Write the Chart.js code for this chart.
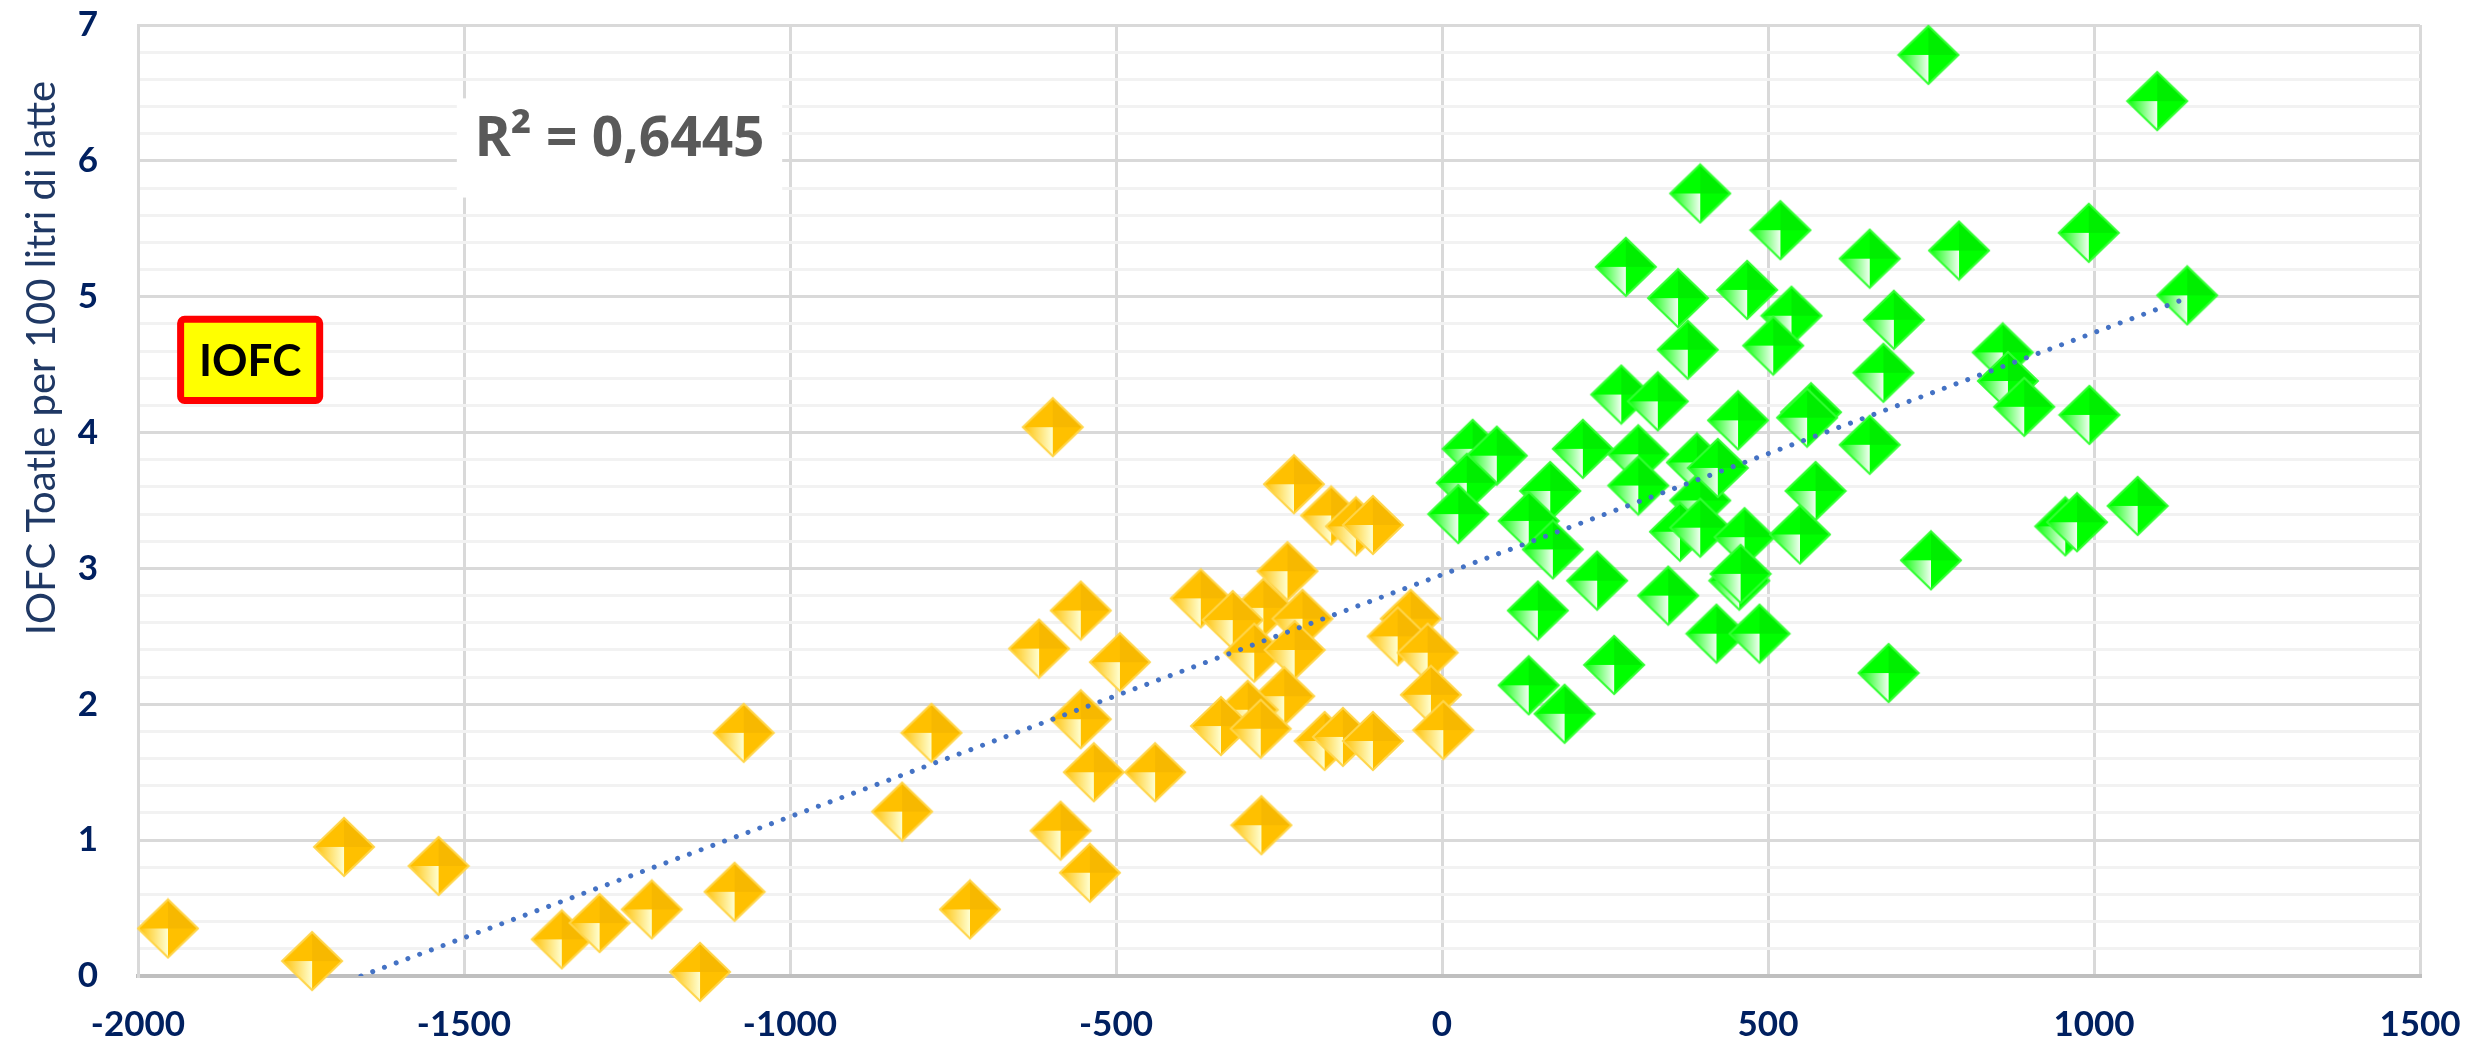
<!DOCTYPE html>
<html>
<head>
<meta charset="utf-8">
<script src="https://cdn.jsdelivr.net/npm/chart.js@4.4.1/dist/chart.umd.min.js"></script>
<style>
  html, body { margin: 0; padding: 0; background: #fff; }
  #wrap { width: 2469px; height: 1041px; }
</style>
</head>
<body>
<div id="wrap"><canvas id="chart" width="2469" height="1041"></canvas></div>
<script>
// values
const yellowX = [-1954, -1733, -1684, -1539, -1350, -1292, -1212, -1138, -1085, -1071,
  -828, -783, -724, -597, -618, -554, -494, -554, -534, -440,
  -585, -540, -277, -370, -227, -170, -132, -106, -237, -274,
  -321, -214, -288, -226, -48, -68, -22, -17, 2, -242,
  -298, -339, -278, -180, -152, -106];
const yellowY = [0.35, 0.11, 0.95, 0.81, 0.27, 0.39, 0.49, 0.03, 0.62, 1.79,
  1.21, 1.79, 0.49, 4.04, 2.41, 2.69, 2.31, 1.89, 1.5, 1.5,
  1.07, 0.76, 1.11, 2.78, 3.62, 3.39, 3.31, 3.32, 2.98, 2.71,
  2.62, 2.63, 2.38, 2.4, 2.63, 2.5, 2.38, 2.07, 1.81, 2.06,
  1.96, 1.84, 1.82, 1.73, 1.76, 1.73];

const greenX = [746, 1097, 396, 519, 992, 656, 793, 282, 1143, 362,
  468, 536, 693, 508, 377, 860, 677, 868, 893, 993,
  275, 331, 454, 566, 560, 656, 47, 84, 216, 301,
  391, 38, 25, 166, 133, 170, 301, 396, 365, 396,
  464, 549, 573, 238, 147, 347, 456, 458, 421, 487,
  264, 133, 188, 750, 956, 974, 1067, 685, 423];
const greenY = [6.78, 6.44, 5.76, 5.49, 5.47, 5.28, 5.34, 5.22, 5.01, 4.99,
  5.05, 4.86, 4.83, 4.64, 4.61, 4.59, 4.44, 4.38, 4.19, 4.13,
  4.28, 4.23, 4.09, 4.15, 4.11, 3.91, 3.88, 3.83, 3.88, 3.84,
  3.78, 3.63, 3.4, 3.57, 3.35, 3.14, 3.61, 3.5, 3.27, 3.3,
  3.23, 3.25, 3.57, 2.91, 2.69, 2.8, 2.91, 2.96, 2.52, 2.52,
  2.29, 2.14, 1.93, 3.06, 3.31, 3.34, 3.46, 2.23, 3.74];

// dotted linear trend line (ends as drawn in the picture)
const trendX = [-1658, 1143];
const trendY = [0, 4.99];

const xTickValues = [-2000, -1500, -1000, -500, 0, 500, 1000, 1500];
const yTickValues = [0, 1, 2, 3, 4, 5, 6, 7];

const yTitle = "IOFC Toatle per 100 litri di latte";
const r2Text = "R\u00B2 = 0,6445";
const boxText = "IOFC";

function toPoints(xs, ys) {
  return xs.map((x, i) => ({ x: x, y: ys[i] }));
}

// shaded diamond marker
function makeDiamond(base, dark, light, edge) {
  const w = 64, h = 62;
  const c = document.createElement("canvas");
  c.width = w;
  c.height = h;
  const g = c.getContext("2d");
  const cx = w / 2, cy = h / 2;
  const L = [2, cy], T = [cx, 2], R = [w - 2, cy], B = [cx, h - 2], C = [cx, cy];

  function tri(a, b, d, fill) {
    g.beginPath();
    g.moveTo(a[0], a[1]);
    g.lineTo(b[0], b[1]);
    g.lineTo(d[0], d[1]);
    g.closePath();
    g.fillStyle = fill;
    g.fill();
  }

  tri(L, T, C, base);
  tri(T, R, C, dark);
  tri(R, B, C, base);
  const grad = g.createLinearGradient(L[0], cy, cx, cy);
  grad.addColorStop(0, base);
  grad.addColorStop(1, light);
  tri(L, C, B, grad);

  g.beginPath();
  g.moveTo(L[0], L[1]);
  g.lineTo(T[0], T[1]);
  g.lineTo(R[0], R[1]);
  g.lineTo(B[0], B[1]);
  g.closePath();
  g.lineWidth = 2;
  g.strokeStyle = edge;
  g.stroke();
  return c;
}

const yellowMark = makeDiamond("#FFC000", "#F7B800", "#FFFFD0", "#FFD54A");
const greenMark = makeDiamond("#00FF00", "#00EE00", "#F0FFF0", "#33FF33");

function isMajor(v) {
  return Math.abs(v - Math.round(v)) < 1e-6;
}

const extras = {
  id: "extras",
  afterDraw(chart) {
    const ctx = chart.ctx;
    const xs = chart.scales.x;
    const ys = chart.scales.y;

    // axis title
    ctx.save();
    ctx.translate(55, 358);
    ctx.rotate(-Math.PI / 2);
    ctx.font = "40px Lato";
    ctx.fillStyle = "#1F3864";
    ctx.textAlign = "center";
    ctx.textBaseline = "alphabetic";
    ctx.fillText(yTitle, 0, 0);
    ctx.restore();

    // R² label
    const rx1 = xs.getPixelForValue(-1511), rx2 = xs.getPixelForValue(-1012);
    const ry1 = ys.getPixelForValue(6.46), ry2 = ys.getPixelForValue(5.73);
    ctx.save();
    ctx.fillStyle = "#ffffff";
    ctx.fillRect(rx1, ry1, rx2 - rx1, ry2 - ry1);
    ctx.font = "bold 55px 'Open Sans'";
    ctx.fillStyle = "#595959";
    ctx.textAlign = "center";
    ctx.textBaseline = "middle";
    ctx.fillText(r2Text, (rx1 + rx2) / 2, ys.getPixelForValue(6.15));
    ctx.restore();

    // IOFC box
    const bx1 = xs.getPixelForValue(-1940), bx2 = xs.getPixelForValue(-1716);
    const by1 = ys.getPixelForValue(4.86), by2 = ys.getPixelForValue(4.21);
    ctx.save();
    ctx.beginPath();
    ctx.roundRect(bx1 + 3.5, by1 + 3.5, bx2 - bx1 - 7, by2 - by1 - 7, 4);
    ctx.fillStyle = "#FFFF00";
    ctx.fill();
    ctx.lineWidth = 7;
    ctx.strokeStyle = "#FF0000";
    ctx.stroke();
    ctx.font = "bold 44px Lato";
    ctx.fillStyle = "#000000";
    ctx.textAlign = "center";
    ctx.textBaseline = "middle";
    ctx.fillText(boxText, (bx1 + bx2) / 2, (by1 + by2) / 2 + 2);
    ctx.restore();
  },
};

const tickFont = { family: "Lato", size: 35, weight: "bold" };

const chart = new Chart(document.getElementById("chart"), {
  type: "scatter",
  data: {
    datasets: [
      {
        type: "line",
        label: "trend",
        data: toPoints(trendX, trendY),
        borderColor: "#4472C4",
        borderWidth: 5,
        borderDash: [0.01, 12.5],
        borderCapStyle: "round",
        pointRadius: 0,
        fill: false,
        order: 0,
      },
      {
        label: "negativi",
        data: toPoints(yellowX, yellowY),
        pointStyle: yellowMark,
        pointRadius: 31,
        clip: false,
        order: 2,
      },
      {
        label: "positivi",
        data: toPoints(greenX, greenY),
        pointStyle: greenMark,
        pointRadius: 31,
        clip: false,
        order: 1,
      },
    ],
  },
  options: {
    responsive: false,
    animation: false,
    devicePixelRatio: 1,
    layout: {
      autoPadding: false,
      padding: { top: 25, right: 49, bottom: 0, left: 0 },
    },
    plugins: {
      legend: { display: false },
      tooltip: { enabled: false },
    },
    scales: {
      x: {
        type: "linear",
        min: xTickValues[0],
        max: xTickValues[xTickValues.length - 1],
        afterBuildTicks: (scale) => {
          scale.ticks = xTickValues.map((v) => ({ value: v }));
        },
        afterFit: (scale) => {
          scale.height = 65;
          scale.paddingLeft = 0;
          scale.paddingRight = 0;
        },
        grid: {
          color: "#d9d9d9",
          lineWidth: 3,
          drawTicks: false,
        },
        border: { color: "#bfbfbf", width: 4 },
        ticks: {
          autoSkip: false,
          maxRotation: 0,
          padding: 28,
          color: "#002060",
          font: tickFont,
          callback: (v) => String(v),
        },
      },
      y: {
        type: "linear",
        min: yTickValues[0],
        max: yTickValues[yTickValues.length - 1],
        afterFit: (scale) => {
          scale.width = 138;
          scale.paddingTop = 0;
          scale.paddingBottom = 0;
        },
        grid: {
          color: (c) => (isMajor(c.tick.value) ? "#d9d9d9" : "#f2f2f2"),
          lineWidth: 3,
          drawTicks: false,
        },
        border: { color: "#d9d9d9", width: 3 },
        ticks: {
          stepSize: 0.2,
          autoSkip: false,
          padding: 40,
          color: "#002060",
          font: tickFont,
          callback: (v) => (isMajor(v) ? String(Math.round(v)) : ""),
        },
      },
    },
  },
  plugins: [extras],
});
</script>
</body>
</html>
